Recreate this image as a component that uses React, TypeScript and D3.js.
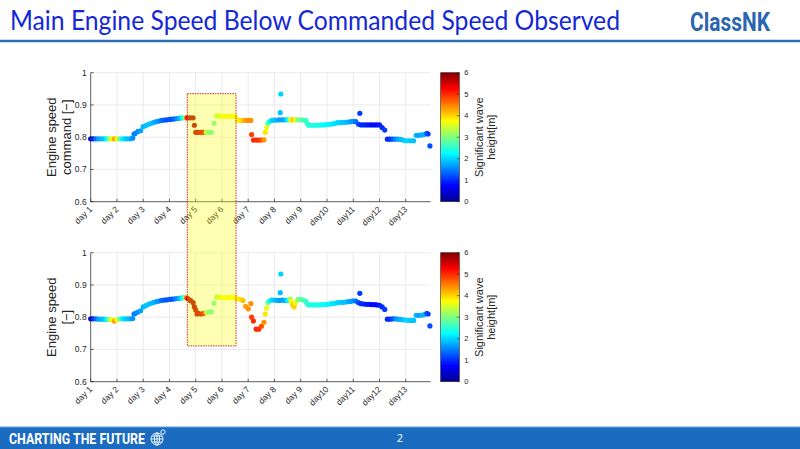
import React from "react";
import * as d3 from "d3";

// sample times [day], wave height [m], commanded and actual engine speed [-]
const days = [
  1.0, 1.1, 1.2, 1.3, 1.4, 1.5, 1.6, 1.7, 1.8, 1.9,
  2.0, 2.1, 2.2, 2.3, 2.4, 2.5, 2.6, 2.65, 2.7, 2.8, 2.9,
  3.0, 3.1, 3.2, 3.3, 3.4, 3.5, 3.6, 3.7, 3.8, 3.9,
  4.0, 4.1, 4.2, 4.3, 4.4, 4.5, 4.6, 4.65, 4.7, 4.8, 4.9, 4.95,
  5.0, 5.05, 5.1, 5.2, 5.3, 5.4, 5.5, 5.6, 5.7, 5.8, 5.9,
  6.0, 6.1, 6.2, 6.3, 6.4, 6.5, 6.6, 6.7, 6.8, 6.9,
  7.0, 7.1, 7.13, 7.2, 7.3, 7.4, 7.5, 7.6, 7.65, 7.7, 7.75, 7.8, 7.9,
  8.0, 8.1, 8.2, 8.22, 8.24, 8.3, 8.4, 8.5, 8.6, 8.65, 8.7, 8.75, 8.8, 8.9,
  9.0, 9.1, 9.2, 9.25, 9.3, 9.4, 9.5, 9.6, 9.7, 9.8, 9.9,
  10.0, 10.1, 10.2, 10.3, 10.4, 10.5, 10.6, 10.7, 10.8, 10.9,
  11.0, 11.1, 11.2, 11.25, 11.3, 11.4, 11.5, 11.6, 11.7, 11.8, 11.9,
  12.0, 12.1, 12.2, 12.3, 12.4, 12.5, 12.6, 12.7, 12.8, 12.9,
  13.0, 13.1, 13.2, 13.3, 13.4, 13.5, 13.6, 13.7, 13.8, 13.85, 13.92,
];

const waveHeight = [
  0.6, 1.0, 1.4, 1.7, 1.8, 1.9, 2.2, 3.0, 3.7, 4.3,
  3.8, 2.9, 2.2, 2.0, 1.9, 1.8, 1.6, 1.5, 1.5, 1.6, 1.7,
  1.8, 1.9, 1.9, 1.9, 1.8, 1.7, 1.6, 1.4, 1.3, 1.2,
  1.3, 1.2, 1.4, 1.6, 1.9, 2.3, 3.2, 4.5, 5.4, 5.7, 5.7, 5.7,
  5.6, 5.6, 5.6, 5.5, 5.3, 3.2, 2.9, 2.8, 2.9, 3.3, 3.5,
  3.6, 3.7, 3.7, 3.8, 3.7, 3.8, 3.8, 3.9, 4.1, 4.3,
  4.4, 4.4, 4.9, 5.0, 5.0, 5.0, 4.8, 4.4, 3.9, 3.6, 3.0, 2.4, 2.0,
  1.9, 1.8, 1.7, 1.9, 2.0, 1.7, 1.8, 2.2, 3.2, 3.7, 4.1, 4.0, 3.6, 3.0,
  2.8, 2.7, 2.6, 2.5, 2.5, 2.4, 2.4, 2.4, 2.4, 2.3, 2.3,
  2.2, 2.2, 2.1, 2.1, 2.0, 2.0, 1.9, 1.9, 1.8, 1.7,
  1.6, 1.4, 1.2, 1.1, 1.0, 1.0, 0.9, 0.9, 0.8, 0.8, 0.8,
  0.9, 1.0, 1.1, 1.0, 1.0, 1.2, 1.5, 1.7, 1.8, 1.9,
  2.0, 2.0, 1.9, 1.9, 1.8, 1.7, 1.8, 1.8, 1.3, 1.1, 1.2,
];

const commandSpeed = [
  0.795, 0.795, 0.795, 0.795, 0.795, 0.795, 0.795, 0.795, 0.795, 0.795,
  0.795, 0.795, 0.795, 0.795, 0.795, 0.795, 0.797, 0.81, 0.812, 0.818, 0.82,
  0.833, 0.836, 0.84, 0.843, 0.846, 0.848, 0.85, 0.852, 0.853, 0.854,
  0.855, 0.856, 0.857, 0.858, 0.859, 0.86, 0.86, 0.86, 0.86, 0.86, 0.86, 0.837,
  0.815, 0.815, 0.815, 0.815, 0.815, 0.815, 0.815, 0.815, 0.843, 0.866, 0.866,
  0.865, 0.865, 0.865, 0.865, 0.865, 0.864, 0.852, 0.852, 0.852, 0.852,
  0.852, 0.852, 0.808, 0.791, 0.791, 0.791, 0.791, 0.792, 0.815, 0.83, 0.843, 0.848, 0.852,
  0.853, 0.853, 0.854, 0.876, 0.934, 0.854, 0.854, 0.854, 0.854, 0.854, 0.854, 0.854, 0.854, 0.854,
  0.854, 0.853, 0.852, 0.842, 0.837, 0.837, 0.837, 0.837, 0.837, 0.838, 0.838,
  0.84, 0.84, 0.841, 0.843, 0.845, 0.845, 0.846, 0.846, 0.847, 0.848,
  0.849, 0.848, 0.84, 0.874, 0.838, 0.838, 0.838, 0.838, 0.838, 0.838, 0.838,
  0.838, 0.83, 0.822, 0.794, 0.794, 0.794, 0.794, 0.794, 0.793, 0.791,
  0.789, 0.789, 0.789, 0.789, 0.806, 0.806, 0.807, 0.808, 0.812, 0.81, 0.773,
];

const engineSpeed = [
  0.795, 0.795, 0.795, 0.794, 0.794, 0.794, 0.793, 0.793, 0.792, 0.788,
  0.792, 0.795, 0.795, 0.795, 0.795, 0.795, 0.796, 0.81, 0.812, 0.816, 0.82,
  0.832, 0.836, 0.84, 0.843, 0.846, 0.848, 0.85, 0.852, 0.853, 0.854,
  0.855, 0.856, 0.857, 0.858, 0.859, 0.86, 0.86, 0.86, 0.858, 0.852, 0.845, 0.832,
  0.822, 0.81, 0.812, 0.81, 0.812, 0.815, 0.816, 0.817, 0.843, 0.862, 0.862,
  0.861, 0.861, 0.861, 0.861, 0.861, 0.86, 0.857, 0.855, 0.852, 0.834,
  0.826, 0.842, 0.8, 0.788, 0.763, 0.763, 0.772, 0.784, 0.81, 0.828, 0.845, 0.85, 0.853,
  0.853, 0.852, 0.852, 0.876, 0.934, 0.853, 0.852, 0.852, 0.856, 0.848, 0.838, 0.832, 0.845, 0.855,
  0.855, 0.853, 0.848, 0.842, 0.838, 0.838, 0.838, 0.838, 0.838, 0.839, 0.839,
  0.84, 0.841, 0.842, 0.843, 0.845, 0.846, 0.846, 0.847, 0.848, 0.849,
  0.851, 0.85, 0.845, 0.874, 0.842, 0.841, 0.84, 0.84, 0.839, 0.839, 0.838,
  0.837, 0.832, 0.824, 0.794, 0.794, 0.795, 0.795, 0.794, 0.793, 0.792,
  0.791, 0.79, 0.79, 0.79, 0.806, 0.806, 0.806, 0.808, 0.812, 0.81, 0.773,
];

const dayTicks = [1, 2, 3, 4, 5, 6, 7, 8, 9, 10, 11, 12, 13];
const dayLabels = ["day 1", "day 2", "day 3", "day 4", "day 5", "day 6", "day 7", "day 8", "day 9", "day10", "day11", "day12", "day13"];
const speedTicks = [0.6, 0.7, 0.8, 0.9, 1];
const waveTicks = [0, 1, 2, 3, 4, 5, 6];
const highlightDays = [4.68, 6.535];

const W = 800;
const H = 449;
const PLOT_L = 90.7;
const PLOT_R = 430.7;
const PLOT_H = 129;
const CB_L = 440.7;
const CB_W = 18.6;
const AXIS_COLOR = "#262626";
const FONT = "'Liberation Sans', Arial, sans-serif";

const x = d3.scaleLinear().domain([1, 13.95]).range([PLOT_L, PLOT_R]);

// MATLAB-style jet colormap
const jet = d3
  .scaleLinear<string>()
  .domain([0, 0.75, 2.25, 3.75, 5.25, 6])
  .range(["#00008f", "#0000ff", "#00ffff", "#ffff00", "#ff0000", "#800000"])
  .clamp(true);

function Panel({ top, values, label, id }: { top: number; values: number[]; label: string[]; id: string }) {
  const y = d3.scaleLinear().domain([0.6, 1]).range([top + PLOT_H, top]);
  const cb = d3.scaleLinear().domain([0, 6]).range([top + PLOT_H, top]);
  const bottom = top + PLOT_H;
  const midY = top + PLOT_H / 2;
  const stops = d3.range(0, 6.01, 0.25);

  return (
    <g>
      {/* grid */}
      {speedTicks.map((t) => (
        <line key={"gy" + t} x1={PLOT_L} x2={PLOT_R} y1={y(t)} y2={y(t)} stroke="#e3e3e3" strokeWidth={0.7} />
      ))}
      {dayTicks.map((t) => (
        <line key={"gx" + t} x1={x(t)} x2={x(t)} y1={top} y2={bottom} stroke="#e3e3e3" strokeWidth={0.7} />
      ))}

      {/* scatter */}
      {days.map((d, i) => (
        <circle key={i} cx={x(d)} cy={y(values[i])} r={2.6} fill={jet(waveHeight[i])} />
      ))}

      {/* axes */}
      <line x1={PLOT_L} x2={PLOT_L} y1={top} y2={bottom} stroke={AXIS_COLOR} strokeWidth={0.7} />
      <line x1={PLOT_L} x2={PLOT_R} y1={bottom} y2={bottom} stroke={AXIS_COLOR} strokeWidth={0.7} />
      {speedTicks.map((t) => (
        <g key={"ty" + t}>
          <line x1={PLOT_L} x2={PLOT_L + 3} y1={y(t)} y2={y(t)} stroke={AXIS_COLOR} strokeWidth={0.7} />
          <text x={PLOT_L - 4} y={y(t)} dy="0.35em" textAnchor="end" fontSize={8.5} fill={AXIS_COLOR} fontFamily={FONT}>
            {t === 1 ? "1" : t.toFixed(1)}
          </text>
        </g>
      ))}
      {dayTicks.map((t, i) => (
        <g key={"tx" + t}>
          <line x1={x(t)} x2={x(t)} y1={bottom} y2={bottom - 3} stroke={AXIS_COLOR} strokeWidth={0.7} />
          <text
            transform={`translate(${x(t)},${bottom + 6}) rotate(-45)`}
            dy="0.35em"
            textAnchor="end"
            fontSize={8.5}
            fill={AXIS_COLOR}
            fontFamily={FONT}
          >
            {dayLabels[i]}
          </text>
        </g>
      ))}
      {label.map((s, i) => (
        <text
          key={s}
          transform={`translate(${51 + i * 15.5},${midY}) rotate(-90)`}
          dy="0.35em"
          textAnchor="middle"
          fontSize={13}
          fill={AXIS_COLOR}
          fontFamily={FONT}
        >
          {s}
        </text>
      ))}

      {/* colorbar */}
      <defs>
        <linearGradient id={id} x1="0" y1="1" x2="0" y2="0">
          {stops.map((s) => (
            <stop key={s} offset={s / 6} stopColor={jet(s)} />
          ))}
        </linearGradient>
      </defs>
      <rect x={CB_L} y={top} width={CB_W} height={PLOT_H} fill={`url(#${id})`} stroke={AXIS_COLOR} strokeWidth={0.6} />
      {waveTicks.map((t) => (
        <g key={"cb" + t}>
          <line x1={CB_L + CB_W - 2.5} x2={CB_L + CB_W} y1={cb(t)} y2={cb(t)} stroke={AXIS_COLOR} strokeWidth={0.6} />
          <text x={CB_L + CB_W + 5} y={cb(t)} dy="0.35em" fontSize={7.5} fill={AXIS_COLOR} fontFamily={FONT}>
            {t}
          </text>
        </g>
      ))}
      {["Significant wave", "height[m]"].map((s, i) => (
        <text
          key={s}
          transform={`translate(${479 + i * 12},${midY}) rotate(-90)`}
          dy="0.35em"
          textAnchor="middle"
          fontSize={11}
          fill={AXIS_COLOR}
          fontFamily={FONT}
        >
          {s}
        </text>
      ))}
    </g>
  );
}

export default function App() {
  const topPanel = 72.7;
  const bottomPanel = 252.7;
  const yTop = d3.scaleLinear().domain([0.6, 1]).range([topPanel + PLOT_H, topPanel]);
  const yBottom = d3.scaleLinear().domain([0.6, 1]).range([bottomPanel + PLOT_H, bottomPanel]);
  const hx0 = x(highlightDays[0]);
  const hx1 = x(highlightDays[1]);
  const hy0 = yTop(0.935);
  const hy1 = yBottom(0.711);

  return (
    <div style={{ position: "absolute", left: 0, top: 0 }}>
      <svg width={W} height={H} style={{ display: "block", background: "#ffffff" }}>
        {/* header */}
        <text x={10} y={30} fontSize={26} fill="#1428d6" fontFamily="Lato, 'Open Sans', sans-serif" textLength={610} lengthAdjust="spacingAndGlyphs">
          Main Engine Speed Below Commanded Speed Observed
        </text>
        <text
          x={690}
          y={31}
          fontSize={25}
          fontWeight={700}
          fill="#2a66b0"
          fontFamily="'Liberation Sans Narrow', Roboto, sans-serif"
          textLength={80}
          lengthAdjust="spacingAndGlyphs"
        >
          ClassNK
        </text>
        <line x1={0} x2={W} y1={41} y2={41} stroke="#2e6fb7" strokeWidth={2.5} />

        <Panel top={topPanel} values={commandSpeed} label={["Engine speed", "command [−]"]} id="cb-top" />
        <Panel top={bottomPanel} values={engineSpeed} label={["Engine speed", "[−]"]} id="cb-bottom" />

        {/* highlighted period */}
        <rect
          x={hx0}
          y={hy0}
          width={hx1 - hx0}
          height={hy1 - hy0}
          fill="#ffff00"
          fillOpacity={0.3}
          stroke="#d42a2a"
          strokeWidth={1}
          strokeDasharray="1.5,1"
        />

        {/* footer */}
        <rect x={0} y={427} width={W} height={H - 427} fill="#1b6cc0" />
        <line x1={0} x2={W} y1={427} y2={427} stroke="#5f9fdc" strokeWidth={1} />
        <text
          x={9}
          y={444}
          fontSize={14}
          fontWeight={700}
          fill="#ffffff"
          fontFamily="'Liberation Sans Narrow', Roboto, sans-serif"
          textLength={136}
          lengthAdjust="spacingAndGlyphs"
        >
          CHARTING THE FUTURE
        </text>
        <g transform="translate(157,439)" fill="none" stroke="#ffffff" strokeWidth={0.9}>
          <circle r={6} />
          <ellipse rx={2.6} ry={6} />
          <line x1={-6} x2={6} y1={0} y2={0} />
          <line x1={-5.2} x2={5.2} y1={-3} y2={-3} />
          <line x1={-5.2} x2={5.2} y1={3} y2={3} />
          <line x1={0} x2={0} y1={-6} y2={6} />
          <circle cx={6} cy={-7} r={2.2} />
        </g>
        <text x={400} y={442} fontSize={11} fill="#ffffff" textAnchor="middle" fontFamily="'Open Sans', sans-serif">
          2
        </text>
      </svg>
    </div>
  );
}
